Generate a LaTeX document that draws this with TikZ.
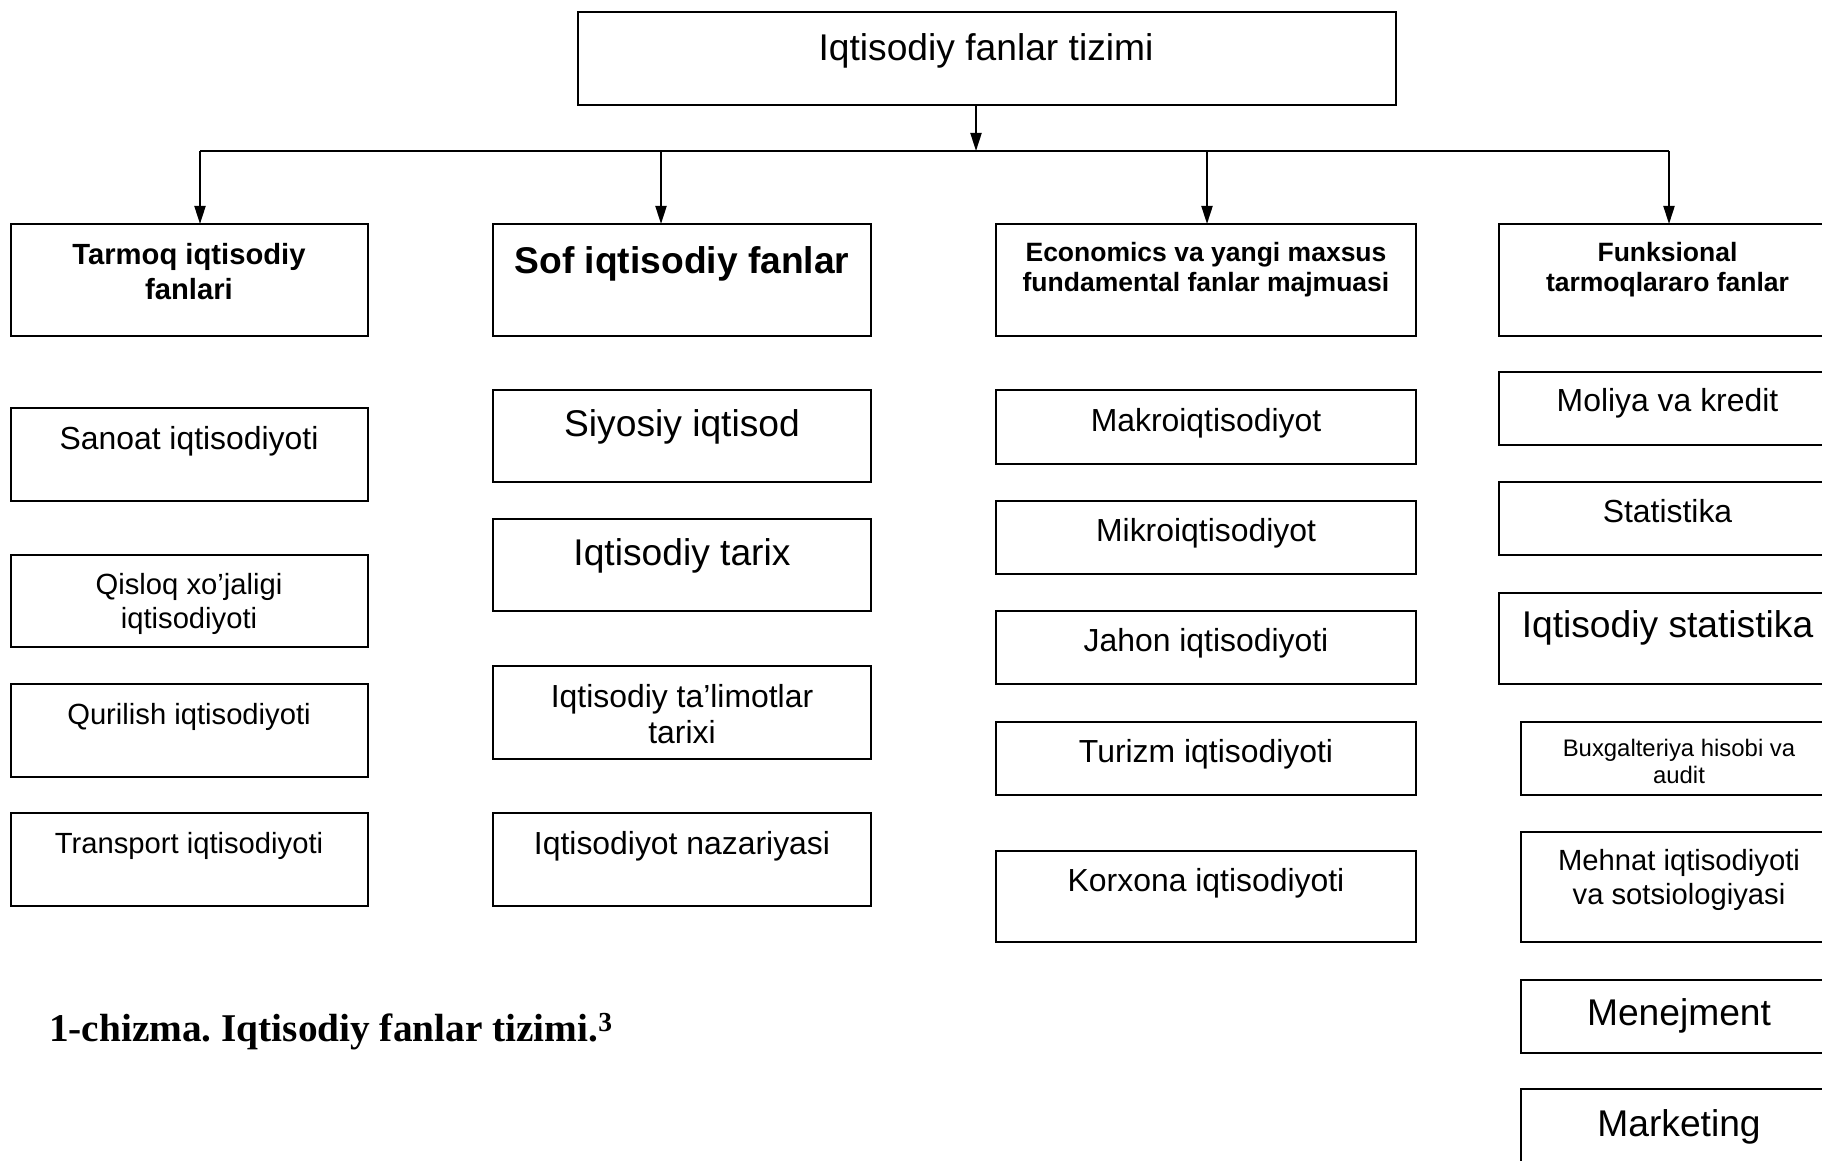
\documentclass[tikz,border=0pt]{standalone}
\usepackage{fontspec}
\setmainfont{Liberation Sans}
\newfontfamily\capfont{Liberation Serif}
\usetikzlibrary{arrows.meta}
\newcommand\fsA{\fontsize{37.2}{42}\selectfont}
\newcommand\fsB{\fontsize{31.9}{36}\selectfont}
\newcommand\fsC{\fontsize{29.2}{33.5}\selectfont}
\newcommand\fsD{\fontsize{26.5}{30}\selectfont}
\newcommand\fsE{\fontsize{23.9}{27}\selectfont}
\newcommand\mybox[5]{\node[box, anchor=north west, minimum width={((#4)-(#2))*1pt}, minimum height={((#5)-(#3))*1pt}] (#1) at (#2,#3) {};}
\tikzset{
  box/.style={draw, line width=2pt, rectangle, inner sep=0pt, outer sep=0pt},
  txt/.style={inner sep=0pt, align=center},
  arr/.style={line width=2pt, -{Triangle[length=18pt,width=11pt]}},
  ln/.style={line width=2.2pt}
}
\frenchspacing
\begin{document}
\begin{tikzpicture}[x=1pt,y=-1pt]
\useasboundingbox (0,0) rectangle (1822,1161);
\fill[white] (0,0) rectangle (1822,1161);
\clip (0,0) rectangle (1822,1161);

% top
\mybox{top}{578}{12}{1396}{105}
\node[txt, font=\fsA] (top-t) at (986,50.5) {Iqtisodiy fanlar tizimi};

% level 1
\mybox{b1}{10.5}{224}{368}{336}
\node[txt, font=\bfseries\fontsize{29.2}{35}\selectfont] (b1-t) at (189,271.5) {Tarmoq iqtisodiy\\fanlari};
\mybox{b2}{493}{224}{871}{336}
\node[txt, font=\bfseries\fsA] (b2-t) at (682,263.5) {Sof iqtisodiy fanlar};
\mybox{b3}{996}{224}{1416}{336}
\node[txt, font=\bfseries\fsD] (b3-t) at (1206,269.5) {Economics va yangi maxsus\\fundamental fanlar majmuasi};
\mybox{b4}{1499}{224}{1838}{336}
\node[txt, font=\bfseries\fsD] (b4-t) at (1667.5,269.5) {Funksional\\tarmoqlararo fanlar};

% connectors
\coordinate (hub) at (976,151);
\coordinate (barL) at (200,151);
\coordinate (barR) at (1669,151);
\coordinate (bar2) at (661,151);
\coordinate (bar3) at (1207,151);
\draw[arr] (top.south -| hub) -- (hub);
\draw[ln] (barL) -- (barR);
\draw[arr] (barL) -- (b1.north -| barL);
\draw[arr] (bar2) -- (b2.north -| bar2);
\draw[arr] (bar3) -- (b3.north -| bar3);
\draw[arr] (barR) -- (b4.north -| barR);

% column 1
\mybox{c11}{10.5}{408}{368}{501}
\node[txt, font=\fsB] (c11-t) at (189,441) {Sanoat iqtisodiyoti};
\mybox{c12}{10.5}{555}{368}{647}
\node[txt, font=\fsC] (c12-t) at (189,604) {Qisloq xo’jaligi\\iqtisodiyoti};
\mybox{c13}{10.5}{684}{368}{777}
\node[txt, font=\fsC] (c13-t) at (189,716.5) {Qurilish iqtisodiyoti};
\mybox{c14}{10.5}{813}{368}{906}
\node[txt, font=\fsC] (c14-t) at (189,845.5) {Transport iqtisodiyoti};

% column 2
\mybox{c21}{493}{390}{871}{482}
\node[txt, font=\fsA] (c21-t) at (682,426.5) {Siyosiy iqtisod};
\mybox{c22}{493}{519}{871}{611}
\node[txt, font=\fsA] (c22-t) at (682,555.5) {Iqtisodiy tarix};
\mybox{c23}{493}{666}{871}{759}
\node[txt, font=\fsB] (c23-t) at (682,714.5) {Iqtisodiy ta’limotlar\\tarixi};
\mybox{c24}{493}{813}{871}{906}
\node[txt, font=\fsB] (c24-t) at (682,846.5) {Iqtisodiyot nazariyasi};

% column 3
\mybox{c31}{996}{390}{1416}{464}
\node[txt, font=\fsB] (c31-t) at (1206,423) {Makroiqtisodiyot};
\mybox{c32}{996}{501}{1416}{574}
\node[txt, font=\fsB] (c32-t) at (1206,533) {Mikroiqtisodiyot};
\mybox{c33}{996}{611}{1416}{684}
\node[txt, font=\fsB] (c33-t) at (1206,643) {Jahon iqtisodiyoti};
\mybox{c34}{996}{722}{1416}{795}
\node[txt, font=\fsB] (c34-t) at (1206,754.5) {Turizm iqtisodiyoti};
\mybox{c35}{996}{851}{1416}{942}
\node[txt, font=\fsB] (c35-t) at (1206,883.5) {Korxona iqtisodiyoti};

% column 4
\mybox{c41}{1499}{372}{1840}{445}
\node[txt, font=\fsB] (c41-t) at (1667.5,403.5) {Moliya va kredit};
\mybox{c42}{1499}{482}{1840}{555}
\node[txt, font=\fsB] (c42-t) at (1667.5,511) {Statistika};
\mybox{c43}{1499}{593}{1840}{684}
\node[txt, font=\fsA] (c43-t) at (1667.5,627.5) {Iqtisodiy statistika};
\mybox{c44}{1521}{722}{1840}{795}
\node[txt, font=\fsE] (c44-t) at (1679,761.5) {Buxgalteriya hisobi va\\audit};
\mybox{c45}{1521}{832}{1840}{942}
\node[txt, font=\fsC] (c45-t) at (1679,880) {Mehnat iqtisodiyoti\\va sotsiologiyasi};
\mybox{c46}{1521}{980}{1840}{1053}
\node[txt, font=\fsA] (c46-t) at (1679,1016) {Menejment};
\mybox{c47}{1521}{1089}{1840}{1190}
\node[txt, font=\fsA] (c47-t) at (1679,1127) {Marketing};

% caption
\node[inner sep=0pt, anchor=base west, font=\capfont\bfseries\fontsize{39.3}{44}\selectfont] (cap) at (49,1041) {1-chizma. Iqtisodiy fanlar tizimi.\textsuperscript{3}};
\end{tikzpicture}
\end{document}
